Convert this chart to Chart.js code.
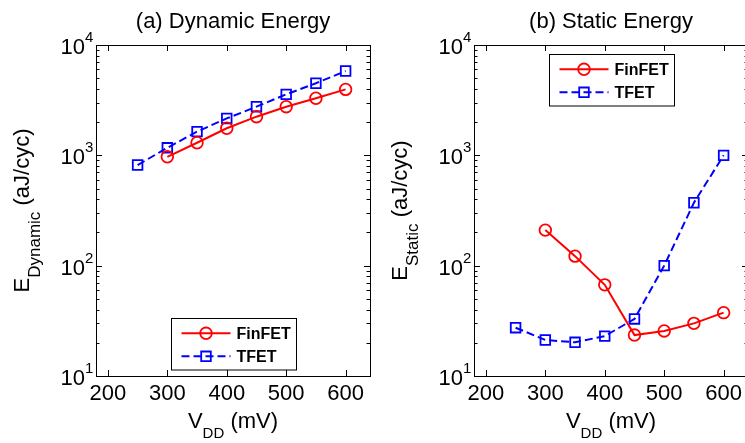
<!DOCTYPE html>
<html>
<head>
<meta charset="utf-8">
<script src="https://cdn.jsdelivr.net/npm/chart.js@4.4.0/dist/chart.umd.min.js"></script>
<style>
  html, body { margin: 0; padding: 0; background: #fff; overflow: hidden; width: 745px; height: 443px; }
  #wrapA { position: absolute; left: 0; top: 0; width: 372px; height: 443px; }
  #wrapB { position: absolute; left: 372px; top: 0; width: 380px; height: 443px; }
</style>
</head>
<body>
<div id="wrapA"><canvas id="chartA" width="372" height="443"></canvas></div>
<div id="wrapB"><canvas id="chartB" width="380" height="443"></canvas></div>
<script>
// ---- data ----
const voltages = [250, 300, 350, 400, 450, 500, 550, 600];
const dynamicFinFET = [null, 970, 1300, 1760, 2240, 2760, 3290, 3960];
const dynamicTFET = [817, 1170, 1640, 2160, 2760, 3570, 4500, 5810];
const staticFinFET = [null, 210, 122, 67, 23.5, 25.6, 30, 37.5];
const staticTFET = [27.4, 21.2, 20.2, 23, 32.9, 100, 372, 1000];
const seriesNames = ['FinFET', 'TFET'];
const xTicks = [200, 300, 400, 500, 600];
const yDecades = [1, 2, 3, 4];
const titles = ['(a) Dynamic Energy', '(b) Static Energy'];
const ySubs = ['Dynamic', 'Static'];

const FONT = '"Liberation Sans", Arial, Helvetica, sans-serif';

function toPoints(xs, ys) {
  const out = [];
  xs.forEach((x, i) => { if (ys[i] !== null) out.push({ x: x, y: ys[i] }); });
  return out;
}

function drawMarker(ctx, style, x, y, color) {
  ctx.save();
  ctx.setLineDash([]);
  ctx.strokeStyle = color;
  ctx.lineWidth = 1.8;
  ctx.beginPath();
  if (style === 'circle') {
    ctx.arc(x, y, 5.8, 0, Math.PI * 2);
  } else {
    ctx.rect(x - 4.8, y - 4.8, 9.6, 9.6);
  }
  ctx.stroke();
  ctx.restore();
}

function makeChart(canvasId, cfg) {
  const axesPlugin = {
    id: 'matlabAxes',
    afterDraw(chart) {
      const ctx = chart.ctx;
      const ca = chart.chartArea;
      const xs = chart.scales.x, ys = chart.scales.y;
      ctx.save();
      ctx.strokeStyle = '#000';
      ctx.fillStyle = '#000';
      ctx.lineWidth = 1;
      // box
      ctx.strokeRect(Math.round(ca.left) + 0.5, Math.round(ca.top) + 0.5,
                     Math.round(ca.right - ca.left), Math.round(ca.bottom - ca.top));
      // x ticks
      ctx.beginPath();
      xTicks.forEach(v => {
        const px = Math.round(xs.getPixelForValue(v)) + 0.5;
        ctx.moveTo(px, ca.bottom); ctx.lineTo(px, ca.bottom - 6);
        ctx.moveTo(px, ca.top); ctx.lineTo(px, ca.top + 6);
      });
      // y ticks
      yDecades.forEach(d => {
        const base = Math.pow(10, d);
        const py = Math.round(ys.getPixelForValue(base)) + 0.5;
        ctx.moveTo(ca.left, py); ctx.lineTo(ca.left + 6, py);
        ctx.moveTo(ca.right, py); ctx.lineTo(ca.right - 6, py);
        if (d < 4) {
          for (let m = 2; m <= 9; m++) {
            const q = Math.round(ys.getPixelForValue(m * base)) + 0.5;
            ctx.moveTo(ca.left, q); ctx.lineTo(ca.left + 3.5, q);
            ctx.moveTo(ca.right, q); ctx.lineTo(ca.right - 3.5, q);
          }
        }
      });
      ctx.stroke();
      // x tick labels
      ctx.font = '22px ' + FONT;
      ctx.textAlign = 'center';
      ctx.textBaseline = 'alphabetic';
      xTicks.forEach(v => {
        ctx.fillText(String(v), xs.getPixelForValue(v), ca.bottom + 24);
      });
      // y tick labels 10^d
      yDecades.forEach(d => {
        const py = ys.getPixelForValue(Math.pow(10, d));
        ctx.font = '22px ' + FONT;
        ctx.textAlign = 'right';
        ctx.fillText('10', ca.left - 11, py + 9);
        ctx.font = '15px ' + FONT;
        ctx.textAlign = 'left';
        ctx.fillText(String(d), ca.left - 11, py - 3);
      });
      // title
      const cx = (ca.left + ca.right) / 2;
      ctx.font = '22px ' + FONT;
      ctx.textAlign = 'center';
      ctx.fillText(cfg.title, cx, 28);
      // x axis label  V_DD (mV)
      {
        ctx.font = '22px ' + FONT;
        const wV = ctx.measureText('V').width;
        const wRest = ctx.measureText(' (mV)').width;
        ctx.font = '15px ' + FONT;
        const wDD = ctx.measureText('DD').width;
        const total = wV + wDD + wRest;
        let x0 = cx - total / 2;
        const base = 428;
        ctx.textAlign = 'left';
        ctx.font = '22px ' + FONT;
        ctx.fillText('V', x0, base);
        ctx.font = '15px ' + FONT;
        ctx.fillText('DD', x0 + wV, base + 10);
        ctx.font = '22px ' + FONT;
        ctx.fillText(' (mV)', x0 + wV + wDD, base);
      }
      // y axis label  E_sub (aJ/cyc)
      {
        const cy = (ca.top + ca.bottom) / 2;
        ctx.save();
        ctx.translate(ca.left - 67, cy);
        ctx.rotate(-Math.PI / 2);
        ctx.font = '22px ' + FONT;
        const wE = ctx.measureText('E').width;
        const wRest = ctx.measureText(' (aJ/cyc)').width;
        ctx.font = '17px ' + FONT;
        const wS = ctx.measureText(cfg.ySub).width;
        const total = wE + wS + wRest;
        let x0 = -total / 2;
        ctx.textAlign = 'left';
        ctx.font = '22px ' + FONT;
        ctx.fillText('E', x0, 0);
        ctx.font = '17px ' + FONT;
        ctx.fillText(cfg.ySub, x0 + wE, 11);
        ctx.font = '22px ' + FONT;
        ctx.fillText(' (aJ/cyc)', x0 + wE + wS, 0);
        ctx.restore();
      }
      // legend
      {
        const w = 125, h = 51.5;
        const lx = Math.round(ca.left + cfg.legend.dx) + 0.5;
        const ly = cfg.legend.fromBottom
          ? Math.round(ca.bottom - cfg.legend.dy - h) + 0.5
          : Math.round(ca.top + cfg.legend.dy) + 0.5;
        ctx.fillStyle = '#fff';
        ctx.fillRect(lx, ly, w, h);
        ctx.strokeStyle = '#000';
        ctx.lineWidth = 1;
        ctx.strokeRect(lx, ly, w, h);
        const rows = [ly + 14.8, ly + 37.8];
        chart.data.datasets.forEach((ds, i) => {
          const ry = rows[i];
          ctx.save();
          ctx.strokeStyle = ds.borderColor;
          ctx.lineWidth = ds.borderWidth;
          ctx.setLineDash(ds.borderDash || []);
          ctx.beginPath();
          ctx.moveTo(lx + 10, ry); ctx.lineTo(lx + 59, ry);
          ctx.stroke();
          ctx.restore();
          drawMarker(ctx, ds.pointStyle, lx + 34.5, ry, ds.borderColor);
          ctx.fillStyle = '#000';
          ctx.font = 'bold 16px ' + FONT;
          ctx.textAlign = 'left';
          ctx.textBaseline = 'middle';
          ctx.fillText(ds.label, lx + 65, ry + 1);
          ctx.textBaseline = 'alphabetic';
        });
      }
      ctx.restore();
    }
  };

  const W = cfg.canvasW, H = 443;
  return new Chart(document.getElementById(canvasId), {
    type: 'line',
    data: {
      datasets: [
        {
          label: seriesNames[0],
          data: toPoints(voltages, cfg.fin),
          borderColor: '#ff0000',
          backgroundColor: 'rgba(0,0,0,0)',
          borderWidth: 2,
          pointStyle: 'circle',
          pointRadius: 5.8,
          pointBorderWidth: 1.8,
          pointBackgroundColor: 'rgba(0,0,0,0)',
          tension: 0
        },
        {
          label: seriesNames[1],
          data: toPoints(voltages, cfg.tfet),
          borderColor: '#0000ff',
          backgroundColor: 'rgba(0,0,0,0)',
          borderWidth: 2,
          borderDash: [8, 4],
          pointStyle: 'rect',
          pointRadius: 6.8,
          pointBorderWidth: 1.8,
          pointBackgroundColor: 'rgba(0,0,0,0)',
          tension: 0
        }
      ]
    },
    options: {
      responsive: false,
      animation: false,
      devicePixelRatio: 1,
      layout: {
        autoPadding: false,
        padding: { top: cfg.area.top, right: W - cfg.area.right, left: 0, bottom: 0 }
      },
      plugins: { legend: { display: false }, title: { display: false }, tooltip: { enabled: false } },
      scales: {
        x: {
          type: 'linear', min: 180, max: 641,
          grid: { display: false }, border: { display: false },
          ticks: { display: false },
          afterFit(s) { s.height = H - cfg.area.bottom; }
        },
        y: {
          type: 'logarithmic', min: 10, max: 10000,
          grid: { display: false }, border: { display: false },
          ticks: { display: false },
          afterFit(s) { s.width = cfg.area.left; }
        }
      }
    },
    plugins: [axesPlugin]
  });
}

makeChart('chartA', {
  canvasW: 372,
  area: { left: 96, right: 370, top: 45, bottom: 376 },
  title: titles[0], ySub: ySubs[0],
  fin: dynamicFinFET, tfet: dynamicTFET,
  legend: { dx: 75, dy: 7, fromBottom: true }
});
makeChart('chartB', {
  canvasW: 380,
  area: { left: 102, right: 376, top: 45, bottom: 376 },
  title: titles[1], ySub: ySubs[1],
  fin: staticFinFET, tfet: staticTFET,
  legend: { dx: 75, dy: 9, fromBottom: false }
});
</script>
</body>
</html>
